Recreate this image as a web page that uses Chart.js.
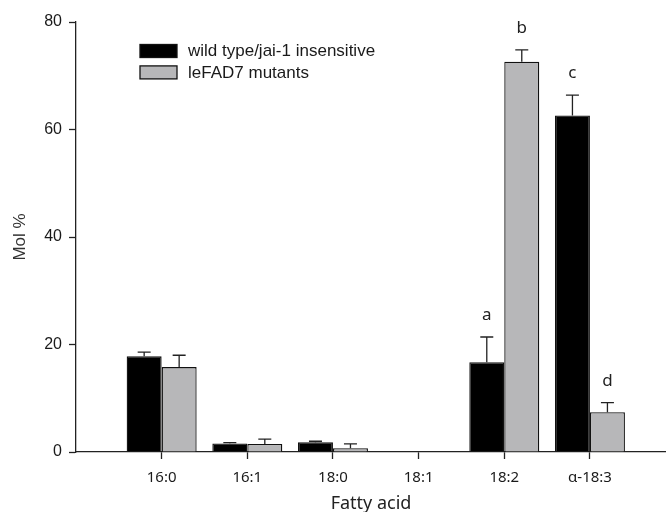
<!DOCTYPE html>
<html>
<head>
<meta charset="utf-8">
<script src="https://cdn.jsdelivr.net/npm/chart.js@4.4.1/dist/chart.umd.min.js"></script>
<style>
  html, body { margin: 0; padding: 0; background: #fff; }
  #wrap { width: 666px; height: 512px; position: relative; }
</style>
</head>
<body>
<div id="wrap"><canvas id="fatty-acid-chart"></canvas></div>
<script>
// Fatty acid composition, mean Mol % with upper error bars
const fattyAcids = ['16:0', '16:1', '18:0', '18:1', '18:2', 'α-18:3']
const seriesNames = ['wild type/jai-1 insensitive', 'leFAD7 mutants']

const wildType = [17.8, 1.6, 1.8, 0, 16.7, 62.6]
const wildTypeErr = [0.8, 0.15, 0.2, 0, 4.7, 3.8]
const mutants = [15.8, 1.5, 0.7, 0, 72.6, 7.4]
const mutantsErr = [2.2, 0.9, 0.8, 0, 2.2, 1.8]

// significance letters above the error caps
const wildTypeLetters = ['', '', '', '', 'a', 'c']
const mutantsLetters = ['', '', '', '', 'b', 'd']

const yTicks = [0, 20, 40, 60, 80]

const INK = '#1a1a1a'
const AXIS_FONT = "'Liberation Sans', Arial, sans-serif"
const LABEL_FONT = "'Noto Sans', 'Open Sans', sans-serif"

const series = [
  { values: wildType, errors: wildTypeErr, letters: wildTypeLetters, fill: '#000000' },
  { values: mutants, errors: mutantsErr, letters: mutantsLetters, fill: '#b7b7b9' },
]

const errorBars = {
  id: 'errorBars',
  afterDatasetsDraw(chart) {
    const { ctx } = chart
    const y = chart.scales.y
    ctx.save()
    series.forEach((s, d) => {
      const meta = chart.getDatasetMeta(d)
      meta.data.forEach((bar, i) => {
        const err = s.errors[i]
        const top = y.getPixelForValue(s.values[i] + err)
        if (err > 0) {
          ctx.strokeStyle = '#222'
          ctx.lineWidth = 1.3
          ctx.beginPath()
          ctx.moveTo(bar.x, bar.y)
          ctx.lineTo(bar.x, top)
          ctx.moveTo(bar.x - 6.5, top)
          ctx.lineTo(bar.x + 6.5, top)
          ctx.stroke()
        }
        if (s.letters[i]) {
          ctx.fillStyle = '#222'
          ctx.font = `17px ${LABEL_FONT}`
          ctx.textAlign = 'center'
          ctx.textBaseline = 'alphabetic'
          ctx.fillText(s.letters[i], bar.x, top - 17)
        }
      })
    })
    ctx.restore()
  },
}

// two-row legend with wide boxes, inside the plot area
const boxLegend = {
  id: 'boxLegend',
  afterDraw(chart) {
    const { ctx, chartArea } = chart
    const x = chartArea.left + 64
    let yy = chartArea.top + 22.5
    ctx.save()
    seriesNames.forEach((name, d) => {
      ctx.fillStyle = series[d].fill
      ctx.fillRect(x, yy, 37, 13)
      ctx.strokeStyle = '#111'
      ctx.lineWidth = 1.3
      ctx.strokeRect(x, yy, 37, 13)
      ctx.fillStyle = INK
      ctx.font = `17px ${AXIS_FONT}`
      ctx.textAlign = 'left'
      ctx.textBaseline = 'middle'
      ctx.fillText(name, x + 48, yy + 7)
      yy += 21.4
    })
    ctx.restore()
  },
}

const toPoints = vals => vals.map((v, i) => ({ x: i + 1, y: v }))

new Chart(document.getElementById('fatty-acid-chart'), {
  type: 'bar',
  data: {
    datasets: series.map((s, d) => ({
      label: seriesNames[d],
      data: toPoints(s.values),
      backgroundColor: s.fill,
      borderColor: '#111',
      borderWidth: 1.3,
      categoryPercentage: 0.817,
      barPercentage: 1.0,
    })),
  },
  options: {
    responsive: true,
    maintainAspectRatio: false,
    animation: false,
    layout: { padding: { top: 22, left: 0, right: 0, bottom: 0 } },
    plugins: {
      legend: { display: false },
      tooltip: { enabled: false },
    },
    scales: {
      x: {
        type: 'linear',
        min: 0,
        max: 6.888,
        offset: false,
        afterFit: scale => { scale.height = 60 },
        afterBuildTicks: scale => { scale.ticks = fattyAcids.map((_, i) => ({ value: i + 1 })) },
        border: { color: '#222', width: 1.3 },
        grid: { display: true, offset: false, drawOnChartArea: false, drawTicks: true, tickLength: 7, tickColor: '#222', tickWidth: 1.3 },
        ticks: {
          autoSkip: false,
          maxRotation: 0,
          padding: 10,
          color: INK,
          font: { family: LABEL_FONT, size: 15 },
          callback: v => fattyAcids[v - 1],
        },
        title: {
          display: true,
          text: 'Fatty acid',
          color: '#222',
          font: { family: LABEL_FONT, size: 18, lineHeight: 1 },
          padding: { top: 0, bottom: -1 },
        },
      },
      y: {
        min: 0,
        max: 80,
        afterFit: scale => { scale.width = 76 },
        afterBuildTicks: scale => { scale.ticks = yTicks.map(v => ({ value: v })) },
        border: { color: '#222', width: 1.3 },
        grid: { display: true, drawOnChartArea: false, drawTicks: true, tickLength: 7, tickColor: '#222', tickWidth: 1.3 },
        ticks: {
          padding: 7,
          color: INK,
          font: { family: AXIS_FONT, size: 16 },
        },
        title: {
          display: true,
          text: 'Mol %',
          color: '#333',
          font: { family: AXIS_FONT, size: 17, lineHeight: 1 },
          padding: { top: 12, bottom: 0 },
        },
      },
    },
  },
  plugins: [errorBars, boxLegend],
})
</script>
</body>
</html>
